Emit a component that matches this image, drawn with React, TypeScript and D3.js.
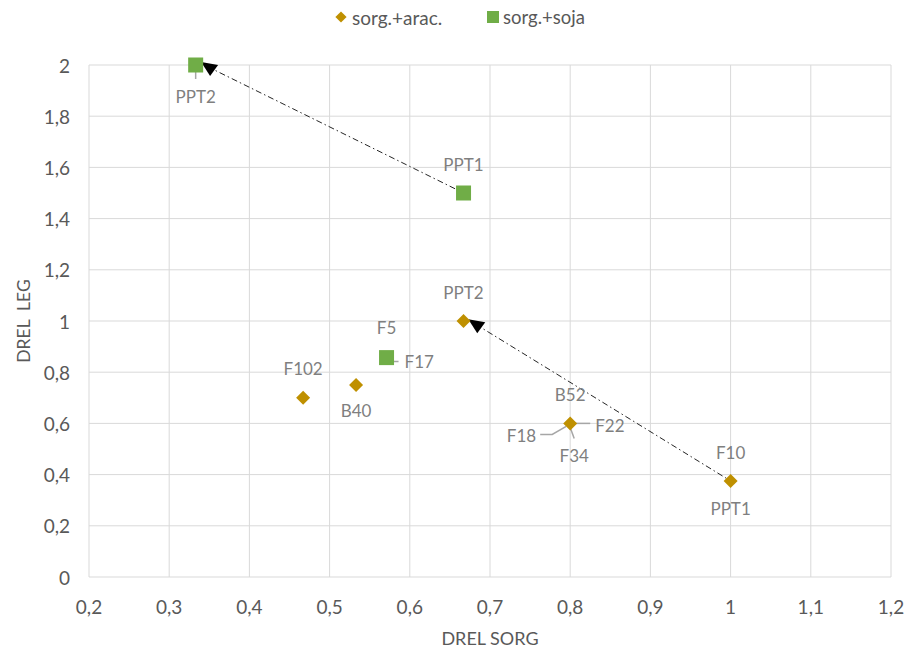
import React from "react";
import * as d3 from "d3";

const aracNames = ["PPT2", "PPT1", "B52", "F102", "B40"];
const aracX = [0.667, 1.0, 0.8, 0.467, 0.533];
const aracY = [1.0, 0.375, 0.6, 0.7, 0.75];

const sojaNames = ["PPT2", "PPT1", "F5"];
const sojaX = [0.333, 0.667, 0.571];
const sojaY = [2.0, 1.5, 0.857];

const xTicks = [0.2, 0.3, 0.4, 0.5, 0.6, 0.7, 0.8, 0.9, 1.0, 1.1, 1.2];
const yTicks = [0, 0.2, 0.4, 0.6, 0.8, 1.0, 1.2, 1.4, 1.6, 1.8, 2.0];

const seriesNames = ["sorg.+arac.", "sorg.+soja"];
const colors = ["#BF9000", "#70AD47"];

const W = 906, H = 652;
const M = { left: 89, right: 891, top: 65, bottom: 577 };
const FONT = "Lato, 'Open Sans', sans-serif";
const fmt = (v: number) => String(+v.toFixed(1)).replace(".", ",");

export default function App() {
  const x = d3.scaleLinear().domain([0.2, 1.2]).range([M.left, M.right]);
  const y = d3.scaleLinear().domain([0, 2]).range([M.bottom, M.top]);
  const labelColor = "#7F7F7F";
  const leader = "#A6A6A6";
  const LBL = 17;

  const diamond = d3.symbol().type(d3.symbolDiamond2).size(125)();

  const arrows = [
    { x1: x(sojaX[1]), y1: y(sojaY[1]), x2: x(sojaX[0]), y2: y(sojaY[0]) },
    { x1: x(aracX[1]), y1: y(aracY[1]), x2: x(aracX[0]), y2: y(aracY[0]) },
  ].map((a) => {
    const dx = a.x2 - a.x1, dy = a.y2 - a.y1;
    const len = Math.hypot(dx, dy);
    const ux = dx / len, uy = dy / len;
    const ex = a.x2 - ux * 16, ey = a.y2 - uy * 16 - 4;
    return { sx: a.x1 - ux * 4, sy: a.y1 - uy * 4, ex, ey };
  });

  const lbl = (text: string, px: number, py: number, anchor: string = "middle") => (
    <text key={text + px + py} x={px} y={py} textAnchor={anchor} dominantBaseline="central"
      fontSize={LBL} fill={labelColor} fontFamily={FONT}>{text}</text>
  );

  const ax = aracX.map((v) => x(v));
  const ay = aracY.map((v) => y(v));
  const sx = sojaX.map((v) => x(v));
  const sy = sojaY.map((v) => y(v));

  return (
    <svg width={W} height={H} style={{ position: "absolute", left: 0, top: 0, background: "#fff" }}>
      <rect width={W} height={H} fill="#fff" />
      {xTicks.map((t) => (
        <line key={"gx" + t} x1={x(t)} x2={x(t)} y1={M.top} y2={M.bottom} stroke="#D9D9D9" strokeWidth={1} />
      ))}
      {yTicks.map((t) => (
        <line key={"gy" + t} x1={M.left} x2={M.right} y1={y(t)} y2={y(t)} stroke="#D9D9D9" strokeWidth={1} />
      ))}
      {xTicks.map((t) => (
        <text key={"tx" + t} x={x(t)} y={606} textAnchor="middle" dominantBaseline="central"
          fontSize={19} fill="#595959" fontFamily={FONT}>{fmt(t)}</text>
      ))}
      {yTicks.map((t) => (
        <text key={"ty" + t} x={70} y={y(t)} textAnchor="end" dominantBaseline="central"
          fontSize={19} fill="#595959" fontFamily={FONT}>{fmt(t)}</text>
      ))}
      <text x={(M.left + M.right) / 2} y={638} textAnchor="middle" dominantBaseline="central"
        fontSize={18} fill="#595959" fontFamily={FONT}>DREL SORG</text>
      <text transform={`translate(23,${(M.top + M.bottom) / 2}) rotate(-90)`} textAnchor="middle"
        dominantBaseline="central" fontSize={17.5} fill="#595959" fontFamily={FONT} style={{ whiteSpace: "pre" }}>
        {"DREL  LEG"}
      </text>

      {arrows.map((a, i) => (
        <g key={"ar" + i}>
          <line x1={a.sx} y1={a.sy} x2={a.ex} y2={a.ey} stroke="#262626" strokeWidth={1}
            strokeDasharray="6 3 1.5 3" />
          <path d={`M${a.ex - 9},${a.ey - 6} L${a.ex + 8},${a.ey - 3} L${a.ex},${a.ey + 8} Z`} fill="#000" />
        </g>
      ))}

      <line x1={sx[0]} x2={sx[0]} y1={sy[0] + 2} y2={sy[0] + 14} stroke={leader} strokeWidth={1.5} />
      <polyline points={`${sx[2]},${sy[2] + 1} ${sx[2] + 3},${sy[2] + 4} ${sx[2] + 12},${sy[2] + 4}`}
        fill="none" stroke={leader} strokeWidth={1.5} />
      <polyline points={`${ax[2] - 4},${ay[2] + 3} ${ax[2] - 18},${ay[2] + 11} ${ax[2] - 30},${ay[2] + 11}`}
        fill="none" stroke={leader} strokeWidth={1.5} />
      <line x1={ax[2] + 2} x2={ax[2] + 20} y1={ay[2]} y2={ay[2]} stroke={leader} strokeWidth={1.5} />
      <line x1={ax[2]} x2={ax[2] + 4} y1={ay[2] + 4} y2={ay[2] + 15} stroke={leader} strokeWidth={1.5} />

      {aracX.map((v, i) => (
        <path key={"a" + i} d={diamond as string} transform={`translate(${ax[i]},${ay[i]})`} fill={colors[0]} />
      ))}
      {sojaX.map((v, i) => (
        <rect key={"s" + i} x={sx[i] - 7.5} y={sy[i] - 7.5} width={15} height={15} fill={colors[1]} />
      ))}

      {lbl(sojaNames[0], sx[0], sy[0] + 31)}
      {lbl(sojaNames[1], sx[1], sy[1] - 29)}
      {lbl(sojaNames[2], sx[2], sy[2] - 30)}
      {lbl("F17", sx[2] + 18, sy[2] + 4, "start")}
      {lbl(aracNames[0], ax[0], ay[0] - 29)}
      {lbl(aracNames[1], ax[1], ay[1] + 27)}
      {lbl("F10", ax[1], ay[1] - 29)}
      {lbl(aracNames[2], ax[2], ay[2] - 29)}
      {lbl("F18", ax[2] - 34, ay[2] + 12, "end")}
      {lbl("F22", ax[2] + 25, ay[2] + 2, "start")}
      {lbl("F34", ax[2] + 4, ay[2] + 32)}
      {lbl(aracNames[3], ax[3], ay[3] - 29)}
      {lbl(aracNames[4], ax[4], ay[4] + 25)}

      <path d={diamond as string} transform="translate(341,17) scale(0.8)" fill={colors[0]} />
      <text x={352} y={17} dominantBaseline="central" fontSize={19} fill="#595959" fontFamily={FONT}>{seriesNames[0]}</text>
      <rect x={487} y={11} width={12} height={12} fill={colors[1]} />
      <text x={503} y={17} dominantBaseline="central" fontSize={18.5} fill="#595959" fontFamily={FONT}>{seriesNames[1]}</text>
    </svg>
  );
}
